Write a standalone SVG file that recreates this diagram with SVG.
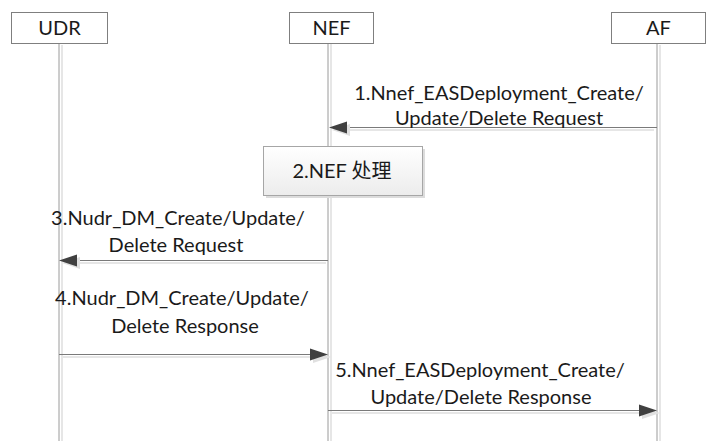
<svg xmlns="http://www.w3.org/2000/svg" width="707" height="441" viewBox="0 0 707 441">
<defs>
<style>
.hdr{fill:#fff;stroke:#7f7f7f;stroke-width:1}
.t{font-family:Lato,"Liberation Sans","Noto Sans CJK SC",sans-serif;font-size:20px;fill:#1a1a1a;text-anchor:middle}
.life{stroke:#9a9a9a;stroke-width:1}
.lifesh{stroke:#e6e6e6;stroke-width:2}
.msg{stroke:#7a7a7a;stroke-width:1;fill:none}
.msgsh{stroke:#e6e6e6;stroke-width:2;fill:none}
.ah{fill:#404040}
.ahsh{fill:#e0e0e0}
</style>
<linearGradient id="g" x1="0" y1="0" x2="0" y2="1">
<stop offset="0" stop-color="#ffffff"/>
<stop offset="1" stop-color="#ececec"/>
</linearGradient>
</defs>
<rect width="707" height="441" fill="#fff"/>

<g id="lifelines">
<line class="lifesh" x1="62" y1="45" x2="62" y2="441"/>
<line class="life" x1="59" y1="44" x2="59" y2="441"/>
<line class="lifesh" x1="331" y1="44" x2="331" y2="441"/>
<line class="life" x1="328" y1="43" x2="328" y2="441"/>
<line class="lifesh" x1="660" y1="45" x2="660" y2="441"/>
<line class="life" x1="657" y1="44" x2="657" y2="441"/>
</g>

<g id="UDR">
<rect class="hdr" x="11.5" y="12.5" width="96" height="31"/>
<text class="t" x="59.5" y="35">UDR</text>
</g>
<g id="NEF">
<rect class="hdr" x="289.5" y="12.5" width="84" height="31"/>
<text class="t" x="331.5" y="35">NEF</text>
</g>
<g id="AF">
<rect class="hdr" x="611.5" y="12.5" width="94" height="31"/>
<text class="t" x="658.5" y="35">AF</text>
</g>

<g id="step2">
<rect x="266" y="149" width="159" height="49" fill="#dcdcdc"/>
<rect x="263.5" y="146.5" width="159" height="49" fill="url(#g)" stroke="#a6a6a6"/>
<text class="t" x="342" y="178">2.NEF 处理</text>
</g>

<g id="connectors">
<!-- 1 -->
<line class="msgsh" x1="654" y1="130" x2="345" y2="130"/>
<line class="msg" x1="657" y1="127.5" x2="345" y2="127.5"/>
<polygon class="ahsh" points="332,130 350,124 350,136"/>
<polygon class="ah" points="329,127.5 347,121.5 347,133.5"/>
<!-- 3 -->
<line class="msgsh" x1="326" y1="263" x2="76" y2="263"/>
<line class="msg" x1="328" y1="260.5" x2="76" y2="260.5"/>
<polygon class="ahsh" points="62,263 80,257 80,269"/>
<polygon class="ah" points="59,260.5 77,254.5 77,266.5"/>
<!-- 4 -->
<line class="msgsh" x1="62" y1="357" x2="312" y2="357"/>
<line class="msg" x1="59" y1="354.5" x2="312" y2="354.5"/>
<polygon class="ahsh" points="331,357 313,351 313,363"/>
<polygon class="ah" points="328,354.5 310,348.5 310,360.5"/>
<!-- 5 -->
<line class="msgsh" x1="331" y1="413" x2="641" y2="413"/>
<line class="msg" x1="328" y1="410.5" x2="641" y2="410.5"/>
<polygon class="ahsh" points="660,413 642,407 642,419"/>
<polygon class="ah" points="657,410.5 639,404.5 639,416.5"/>
</g>

<g id="labels">
<text class="t" x="499" y="100">1.Nnef_EASDeployment_Create/</text>
<text class="t" x="499" y="125">Update/Delete Request</text>
<text class="t" x="178" y="225">3.Nudr_DM_Create/Update/</text>
<text class="t" x="176" y="252">Delete Request</text>
<text class="t" x="182" y="305">4.Nudr_DM_Create/Update/</text>
<text class="t" x="185" y="333">Delete Response</text>
<text class="t" x="480" y="377">5.Nnef_EASDeployment_Create/</text>
<text class="t" x="481" y="404">Update/Delete Response</text>
</g>
</svg>
